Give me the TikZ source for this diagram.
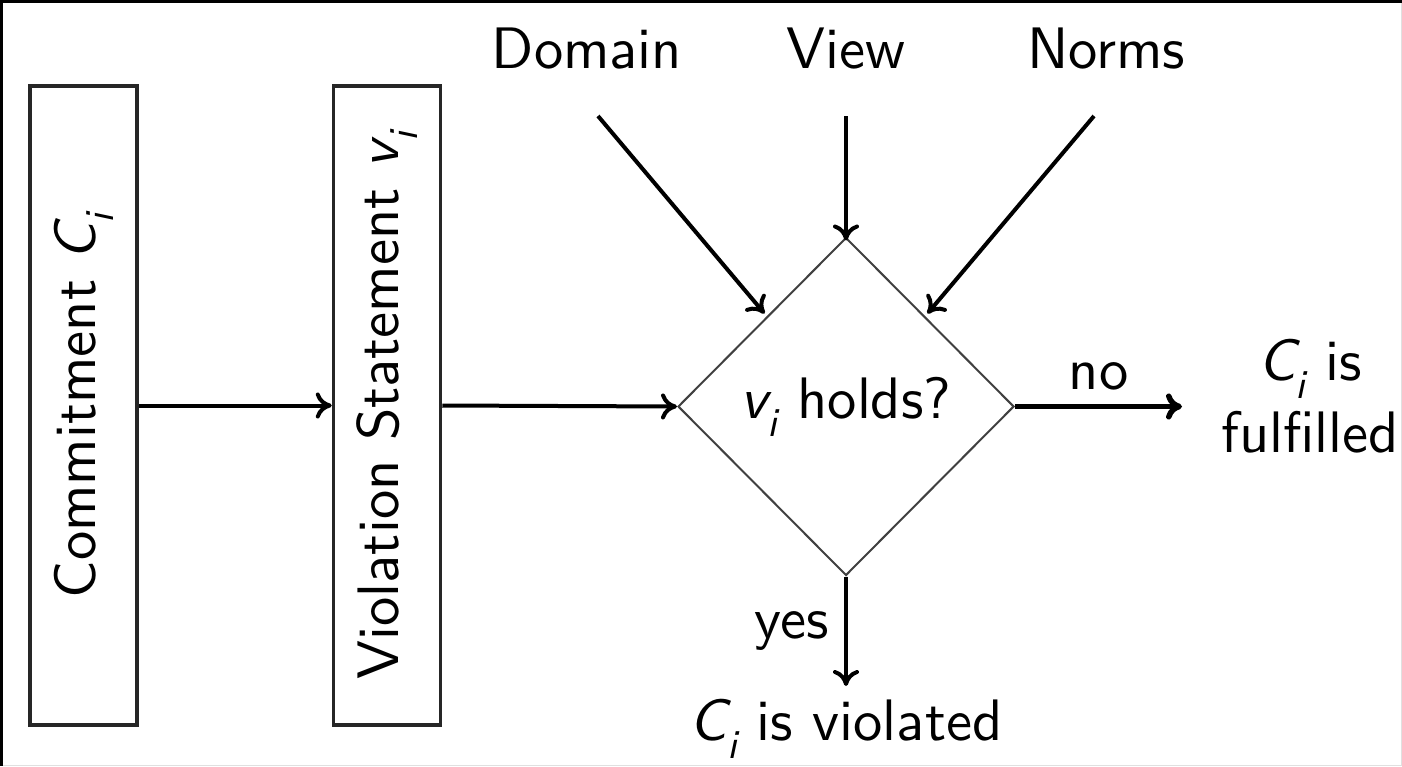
\documentclass[tikz,border=0pt]{standalone}
\usepackage{fontspec}
\usepackage{amsmath}
\setsansfont{lmsans10-regular}[Extension=.otf,ItalicFont=lmsans10-oblique]
\usetikzlibrary{arrows.meta,shapes.geometric}
\newcommand{\msub}[2]{$\textsf{\itshape #1}_{\textsf{\itshape #2}}$}
\begin{document}
\begin{tikzpicture}[x=1pt,y=-1pt,
  every node/.style={font=\sffamily\fontsize{58.5}{72}\selectfont},
  vbox/.style={draw=black!85,line width=3.5pt,rotate=90,minimum width=639pt,minimum height=107pt,inner sep=0pt},
  lbl/.style={anchor=base,inner sep=0pt},
  arr/.style={line width=4pt,-{Computer Modern Rightarrow[length=16pt,width=26pt]}},
  arrthick/.style={line width=5.5pt,-{Computer Modern Rightarrow[length=16pt,width=26pt]}},
  dec/.style={draw=black!75,line width=2pt,diamond,aspect=1,minimum width=336pt,minimum height=338pt,inner sep=0pt}]
\useasboundingbox (0,0) rectangle (1402,766);
\fill[white] (0,0) rectangle (1402,766);
\draw[black!12,line width=1pt] (1401.5,0) -- (1401.5,765.5) -- (0,765.5);
\draw[black,line width=3pt] (0,1.5) -- (1402,1.5);
\draw[black,line width=3pt] (1.5,0) -- (1.5,766);

\node[vbox] (com) at (83.5,405.5) {Commitment \msub{C}{i}};
\node[vbox] (vio) at (387,405.5) {Violation Statement \msub{v}{i}};
\node[dec] (d) at (846,406.5) {\msub{v}{i} holds?};

\node[lbl] (dom) at (587,68) {Domain};
\node[lbl] (view) at (846,68) {View};
\node[lbl] (norms) at (1106,68) {Norms};
\coordinate (domS) at (598,116);
\coordinate (viewS) at (846,116);
\coordinate (normS) at (1094,116);

\node[align=center,inner sep=0pt] (ful) at (1310,396) {\msub{C}{i} is\\fulfilled};
\node[lbl] (viol) at (846,740) {\msub{C}{i} is violated};
\coordinate (noE) at (1182,406.5);
\coordinate (yesE) at (846,686);

\draw[arr] (com.south) -- (vio.north);
\draw[arr] (vio.south) -- (d.west);
\draw[arr] (domS) -- ([shift={(3,-8)}]d.north west);
\draw[arr] (viewS) -- ([yshift=-4]d.north);
\draw[arr] (normS) -- ([shift={(-3,-8)}]d.north east);
\draw[arrthick] (d.east) -- node[lbl,above=14pt] (no) {no} (noE);
\draw[arr] (d.south) -- node[left=12pt] (yes) {yes} (yesE);
\end{tikzpicture}
\end{document}
